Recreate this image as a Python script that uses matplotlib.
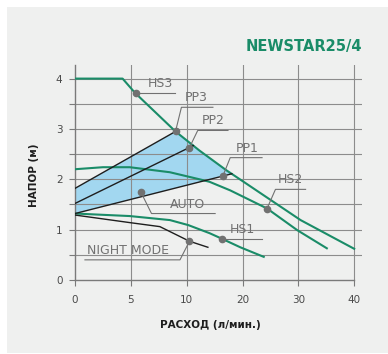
import numpy as np
import matplotlib
matplotlib.use("Agg")
import matplotlib.pyplot as plt
from matplotlib.patches import Rectangle

# flow axis is stretched: 0-5-10 then 20-30-40 at equal steps
Q_BREAKS = [0, 5, 10, 20, 30, 40]
P_BREAKS = [0, 1, 2, 3, 4, 5]
X_TICKS = [0, 5, 10, 20, 30, 40]
Y_TICKS = [0, 1, 2, 3, 4]

# pump curves (flow l/min, head m)
hs3_x = [0, 4.26, 5.36, 9.0, 12.3, 17.1, 20.2, 30.4, 40.0]
hs3_y = [4.0, 4.0, 3.72, 2.95, 2.57, 2.18, 1.95, 1.19, 0.62]
hs2_x = [0, 2.5, 4.9, 8.5, 12.3, 14.1, 17.8, 24.4, 29.8, 35.1]
hs2_y = [2.2, 2.24, 2.24, 2.14, 2.0, 1.95, 1.78, 1.42, 0.99, 0.63]
hs1_x = [0, 4.9, 8.5, 10.3, 14.1, 16.3, 19.6, 23.8]
hs1_y = [1.32, 1.27, 1.19, 1.09, 0.93, 0.82, 0.65, 0.46]
night_x = [0, 4.9, 7.6, 10.5, 13.8]
night_y = [1.29, 1.14, 1.06, 0.77, 0.65]
pp1_x = [0, 18.1]
pp1_y = [1.32, 2.11]
pp2_x = [0, 11.2]
pp2_y = [1.52, 2.67]
pp3_x = [0, 9.0]
pp3_y = [1.82, 2.95]

# labels: name, marker, leader end, underline end, text start
labels = [
    ("HS3", (5.45, 3.72), (5.45, 3.72), 8.93, 6.5),
    ("PP3", (9.0, 2.95), (9.53, 3.43), 14.7, 9.8),
    ("PP2", (10.5, 2.63), (11.98, 2.97), 17.4, 12.7),
    ("PP1", (16.5, 2.07), (17.8, 2.43), 23.5, 18.7),
    ("HS2", (24.4, 1.42), (25.9, 1.80), 31.3, 26.25),
    ("HS1", (16.3, 0.82), (16.3, 0.82), 23.5, 17.8),
    ("AUTO", (5.89, 1.75), (6.85, 1.32), 15.1, 8.5),
    ("NIGHT MODE", (10.5, 0.77), (9.4, 0.40), 0.89, 1.07),
]

GREEN = "#1a8c68"
BLUE = "#a2d7f0"
GREY = "#717171"
GRID = "#8c8c8c"


def forward(x):
    x = np.asarray(x, dtype=float)
    mid = np.interp(x, Q_BREAKS, P_BREAKS)
    return np.where(x > 40, 5 + (x - 40) / 10, np.where(x < 0, x / 5, mid))


def inverse(p):
    p = np.asarray(p, dtype=float)
    mid = np.interp(p, P_BREAKS, Q_BREAKS)
    return np.where(p > 5, 40 + (p - 5) * 10, np.where(p < 0, p * 5, mid))


fig = plt.figure(figsize=(3.88, 3.54), dpi=100)
fig.patches.append(Rectangle((7 / 388, 1 / 354), 381 / 388, 346 / 354,
                             transform=fig.transFigure, facecolor="#eff0ef",
                             edgecolor="none", zorder=-10))
ax = fig.add_axes([75 / 388, 74 / 354, 287 / 388, 215 / 354])
ax.set_facecolor("none")
ax.set_xscale("function", functions=(forward, inverse))
ax.set_xlim(0, 41.4)
ax.set_ylim(0, 4.27)

for y in np.arange(0.5, 4.01, 0.5):
    ax.axhline(y, color=GRID, lw=0.8, zorder=1)
for x in X_TICKS[1:]:
    ax.axvline(x, color=GRID, lw=0.8, zorder=1)

# blue operating area between PP3 and PP1, closed by HS3
hx = np.array(hs3_x)
hy = np.array(hs3_y)
mask = (hx > pp3_x[-1]) & (hx < pp1_x[-1])
poly_x = list(pp3_x) + list(hx[mask]) + list(pp1_x[::-1])
poly_y = list(pp3_y) + list(hy[mask]) + list(pp1_y[::-1])
ax.fill(poly_x, poly_y, color=BLUE, lw=0, zorder=0.5)

for xs, ys in [(hs3_x, hs3_y), (hs2_x, hs2_y), (hs1_x, hs1_y)]:
    ax.plot(xs, ys, color=GREEN, lw=1.5, zorder=3)
for xs, ys in [(night_x, night_y), (pp1_x, pp1_y), (pp2_x, pp2_y), (pp3_x, pp3_y)]:
    ax.plot(xs, ys, color="#1e1e1e", lw=1.0, zorder=3)

for name, (mx, my), (lx, ly), ux, tx in labels:
    ax.plot([mx, lx, ux], [my, ly, ly], color=GREY, lw=0.8, zorder=4)
    ax.plot(mx, my, "o", color=GREY, ms=4.5, zorder=5)
    ax.text(tx, ly + 0.06, name, color=GREY, fontsize=9, ha="left",
            va="bottom", zorder=5)

for side in ["top", "right"]:
    ax.spines[side].set_visible(False)
for side in ["left", "bottom"]:
    ax.spines[side].set_color("#7a7a7a")
    ax.spines[side].set_linewidth(1.0)
ax.spines["bottom"].set_bounds(0, 40)

ax.set_xticks(X_TICKS)
ax.set_xticklabels([str(v) for v in X_TICKS])
ax.set_yticks(Y_TICKS)
ax.set_yticks(np.arange(0.5, 4.01, 1.0), minor=True)
ax.xaxis.set_minor_locator(matplotlib.ticker.NullLocator())
ax.tick_params(axis="both", which="both", colors="#7a7a7a", labelcolor="#4a4a4a",
               labelsize=7.5, length=4, width=0.8)
ax.tick_params(axis="x", pad=7)
ax.tick_params(axis="y", pad=5)

fig.text(362 / 388, 1 - 47 / 354, "NEWSTAR25/4", color=GREEN, fontsize=10.5,
         fontweight="bold", ha="right", va="center")
fig.text(34 / 388, 1 - 175 / 354, "НАПОР (м)", rotation=90, fontsize=7.5,
         fontweight="bold", color="#1e1e1e", ha="center", va="center")
fig.text(210 / 388, 1 - 325 / 354, "РАСХОД (л/мин.)", fontsize=7.5,
         fontweight="bold", color="#1e1e1e", ha="center", va="center")

fig.savefig("out.png", dpi=100, facecolor="white")
